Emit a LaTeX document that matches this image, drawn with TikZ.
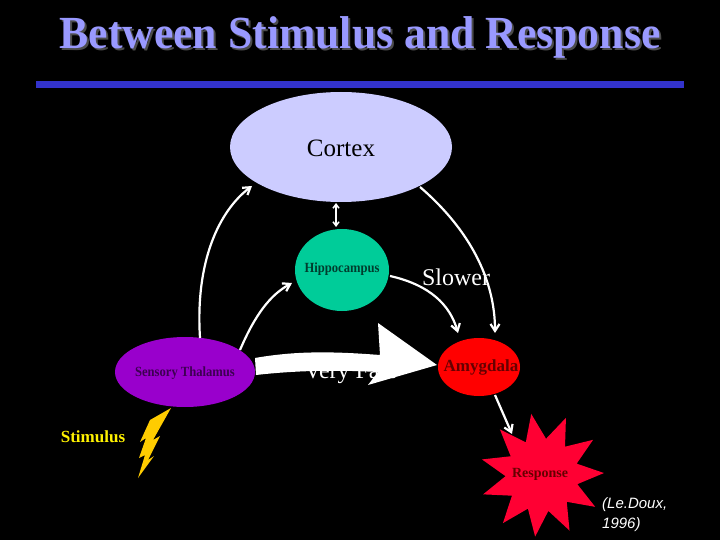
\documentclass[tikz,border=0pt]{standalone}
\usepackage{fontspec}
\setmainfont{Liberation Serif}
\setsansfont{Liberation Sans}
\usetikzlibrary{shapes.geometric,shapes.misc,arrows.meta}
\definecolor{ttl}{HTML}{9999FF}
\definecolor{bar}{HTML}{3333CC}
\definecolor{ctx}{HTML}{CCCCFF}
\definecolor{hip}{HTML}{00CC99}
\definecolor{thal}{HTML}{9900CC}
\definecolor{resp}{HTML}{FF0033}
\definecolor{bolt}{HTML}{FFCC00}
\begin{document}
\begin{tikzpicture}[x=1pt,y=-1pt,
  lbl/.style={font=\bfseries\fontsize{14}{16}\selectfont,text=black!80},
  arr/.style={white,line width=2.2pt,-{Straight Barb[length=7pt,width=9pt]}}]
\fill[black] (0,0) rectangle (720,540);
\useasboundingbox (0,0) rectangle (720,540);
\node[text=black!70,xscale=0.95] at (362,39) {\bfseries\fontsize{46}{50}\selectfont Between Stimulus and Response};
\node[text=ttl,xscale=0.95] (title) at (360,37) {\bfseries\fontsize{46}{50}\selectfont Between Stimulus and Response};
\fill[bar] (36,81) rectangle (684,88);
\node[ellipse,fill=ctx,minimum width=222pt,minimum height=110pt,inner sep=0] (ctx) at (341,147) {};
\node at (341,148) {\fontsize{25}{28}\selectfont Cortex};
\node[ellipse,fill=hip,minimum width=94pt,minimum height=82pt,inner sep=0] (hip) at (342,270) {};
\node[lbl,text=black!70!hip,xscale=0.9] at (342,269) {Hippocampus};
\node[ellipse,fill=thal,minimum width=140pt,minimum height=70pt,inner sep=0] (thal) at (185,372) {};
\node[lbl,text=black!60!thal,xscale=0.9] at (185,373) {Sensory Thalamus};
\node[ellipse,fill=red,minimum width=82pt,minimum height=58pt,inner sep=0] (amy) at (479,367) {};
\node[lbl,font=\bfseries\fontsize{17}{19}\selectfont,text=black!60!red] at (481,367) {Amygdala};
\node[star,star points=11,star point ratio=1.7,fill=resp,minimum size=124pt,inner sep=0,rotate=10] (resp) at (542,475) {};
\node[lbl,text=black!60!red] at (540,474) {Response};
\node[text=yellow,font=\bfseries\fontsize{17}{19}\selectfont] (stim) at (93,437) {Stimulus};
\fill[bolt] (171,408) -- (153,440) -- (160,436) -- (148,460) -- (154,456) -- (138,478) -- (145,455) -- (139,458) -- (146,438) -- (140,442) -- (150,420) -- cycle;
% big arrow
\fill[white] (255,358) .. controls (300,350) and (340,352) .. (380,355) -- (378,323) -- (437,365) -- (368,385) -- (378,372) .. controls (340,370) and (300,370) .. (256,375) -- cycle;
\node[white] at (350,373) {\fontsize{24}{27}\selectfont Very Fast};
\node[white] at (456,277) {\fontsize{24}{27}\selectfont Slower};
\draw[arr] (200,338) .. controls (195,260) and (220,210) .. (252,186);
\draw[arr] (240,350) .. controls (255,315) and (270,295) .. (292,283);
\draw[arr] (390,276) .. controls (430,285) and (450,305) .. (458,333);
\draw[arr] (420,187) .. controls (470,230) and (495,280) .. (495,333);
\draw[white,line width=1.5pt,{Straight Barb[length=4pt,width=6pt]}-{Straight Barb[length=4pt,width=6pt]}] (336,203) -- (336,227);
\draw[arr] (495,395) -- (512,434);
\node[align=left,white,font=\sffamily\itshape\fontsize{15}{20}\selectfont,anchor=north west,inner sep=0] (cite) at (602,497) {(Le.Doux,\\1996)};
\end{tikzpicture}
\end{document}
